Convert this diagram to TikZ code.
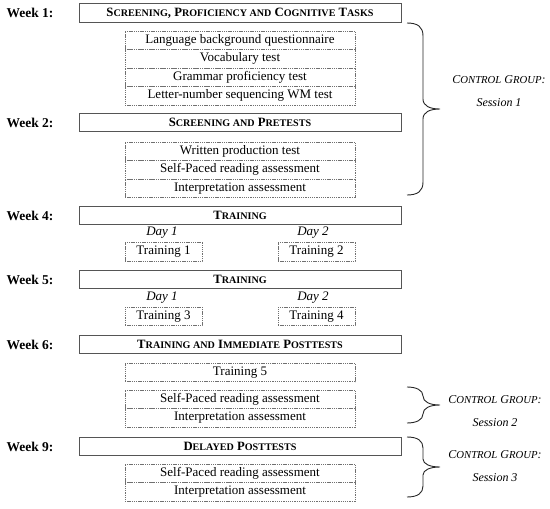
\documentclass[tikz,border=0pt]{standalone}
\usepackage{fontspec}
\setmainfont{Liberation Serif}
\usepackage{tikz}
\usetikzlibrary{positioning}
\definecolor{plframe}{HTML}{555555}
\definecolor{pldash}{HTML}{707070}
% fake small caps
\newcommand{\hdsc}[1]{{\fontsize{10.1}{11}\selectfont #1}}
\newcommand{\ctsc}[1]{{\fontsize{10.7}{12}\selectfont #1}}

\begin{document}
\begin{tikzpicture}[x=1pt, y=-1pt,
  week/.style={font=\fontsize{13.5}{15}\selectfont\bfseries, inner sep=0pt},
  phase/.style={
    rectangle, draw=plframe, line width=0.8pt,
    minimum width=322pt, minimum height=18.5pt, inner sep=0pt,
    font=\fontsize{12.7}{14}\selectfont\bfseries
  },
  task/.style={
    rectangle, draw=pldash, line width=0.6pt, dash pattern=on 1.3pt off 0.9pt,
    minimum width=230pt, minimum height=18.5pt, inner sep=0pt, outer sep=0pt,
    font=\fontsize{13}{14}\selectfont
  },
  train/.style={task, minimum width=77pt},
  day/.style={font=\fontsize{13}{14}\selectfont\itshape},
  ctrl/.style={align=center, font=\fontsize{12}{23}\selectfont\itshape},
  brc/.style={line width=0.9pt, color=black!85},
]
\useasboundingbox (0,0) rectangle (550,509);

% Phases
\node[phase] (h1) at (240,13) {S\hdsc{CREENING}, P\hdsc{ROFICIENCY AND} C\hdsc{OGNITIVE} T\hdsc{ASKS}};
\node[phase] (h2) at (240,122.5) {S\hdsc{CREENING AND} P\hdsc{RETESTS}};
\node[phase] (h4) at (240,215.5) {T\hdsc{RAINING}};
\node[phase] (h5) at (240,279.5) {T\hdsc{RAINING}};
\node[phase] (h6) at (240,344.5) {T\hdsc{RAINING AND} I\hdsc{MMEDIATE} P\hdsc{OSTTESTS}};
\node[phase] (h9) at (240,446.5) {D\hdsc{ELAYED} P\hdsc{OSTTESTS}};

\node[week, left=25pt of h1] (w1) {Week 1:};
\node[week, left=25pt of h2] (w2) {Week 2:};
\node[week, left=25pt of h4] (w4) {Week 4:};
\node[week, left=25pt of h5] (w5) {Week 5:};
\node[week, left=25pt of h6] (w6) {Week 6:};
\node[week, left=25pt of h9] (w9) {Week 9:};

% Week 1
\node[task] (lbq) at (240,40.25) {Language background questionnaire};
\node[task, below=0pt of lbq] (voc) {Vocabulary test};
\node[task, below=0pt of voc] (gpt) {Grammar proficiency test};
\node[task, below=0pt of gpt] (lns) {Letter-number sequencing WM test};

% Week 2
\node[task] (wpt) at (240,151.25) {Written production test};
\node[task, below=0pt of wpt] (spr1) {Self-Paced reading assessment};
\node[task, below=0pt of spr1] (int1) {Interpretation assessment};

% Weeks 4 and 5
\node[train] (tr1) at (163.5,252) {Training 1};
\node[train] (tr2) at (316.5,252) {Training 2};
\node[day] (d41) at (162,233) {Day 1};
\node[day] (d42) at (313,233) {Day 2};
\node[train] (tr3) at (163.5,316.5) {Training 3};
\node[train] (tr4) at (316.5,316.5) {Training 4};
\node[day] (d51) at (162,297.5) {Day 1};
\node[day] (d52) at (313,297.5) {Day 2};

% Week 6
\node[task] (tr5) at (240,372.5) {Training 5};
\node[task] (spr2) at (240,399.25) {Self-Paced reading assessment};
\node[task, below=0pt of spr2] (int2) {Interpretation assessment};

% Week 9
\node[task] (spr3) at (240,473.25) {Self-Paced reading assessment};
\node[task, below=0pt of spr3] (int3) {Interpretation assessment};

% Control group sessions
\draw[brc] (407,23) .. controls (418,23) and (423,27) .. (423,36) -- (423,99)
  .. controls (423,106) and (430,109) .. (440,109)
  .. controls (430,109) and (423,112) .. (423,119) -- (423,182)
  .. controls (423,191) and (418,195) .. (407,195);
\draw[brc] (407,387) .. controls (416,387) and (423,390) .. (423,396)
  .. controls (423,402) and (430,405) .. (440,405)
  .. controls (430,405) and (423,408) .. (423,414)
  .. controls (423,420) and (416,423) .. (407,423);
\draw[brc] (407,437) .. controls (418,437) and (423,441) .. (423,448) -- (423,459)
  .. controls (423,464) and (430,467) .. (440,467)
  .. controls (430,467) and (423,470) .. (423,475) -- (423,486)
  .. controls (423,493) and (418,497) .. (407,497);

\node[ctrl] (cg1) at (499,91.5) {C\ctsc{ONTROL} G\ctsc{ROUP}:\\Session 1};
\node[ctrl] (cg2) at (495,411) {C\ctsc{ONTROL} G\ctsc{ROUP}:\\Session 2};
\node[ctrl] (cg3) at (495,466.5) {C\ctsc{ONTROL} G\ctsc{ROUP}:\\Session 3};

\end{tikzpicture}
\end{document}
